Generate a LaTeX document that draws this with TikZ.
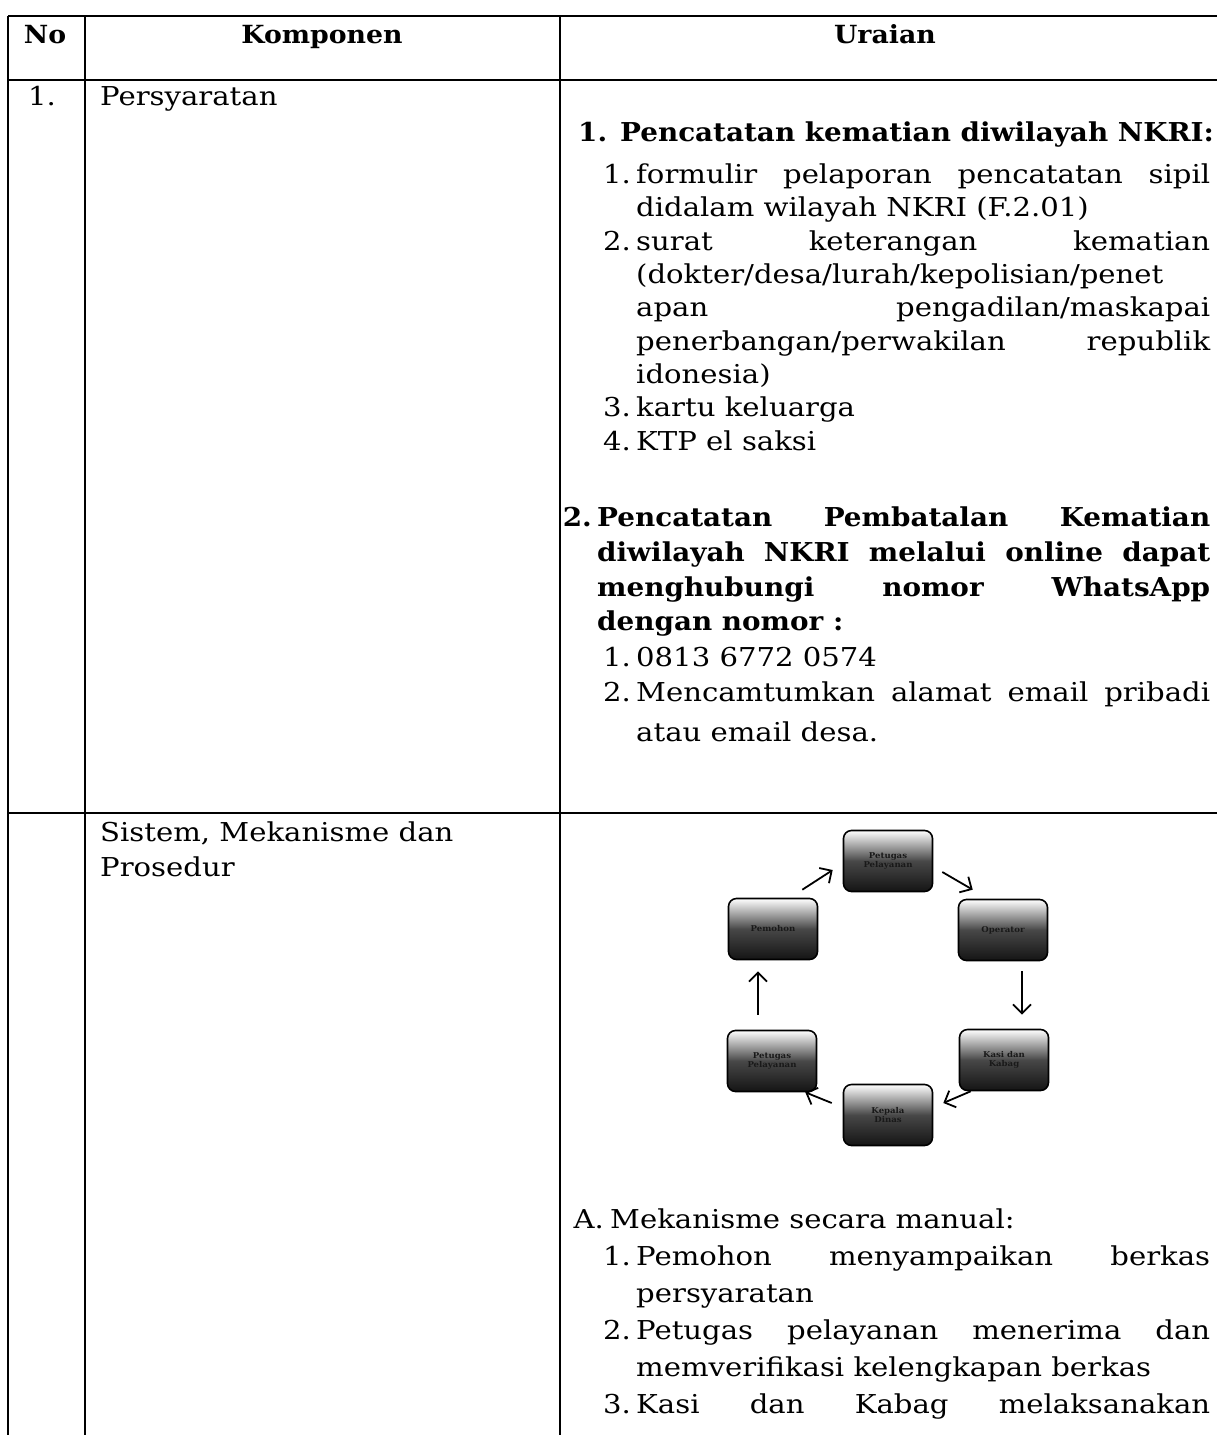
\documentclass[tikz,border=0pt]{standalone}
\usepackage{fontspec}
\setmainfont{DejaVu Serif}[FakeStretch=1.12]
\newfontfamily\bfam{DejaVu Serif Bold}[FakeStretch=1.07]
\usetikzlibrary{arrows.meta,calc}
\newcommand\jst[2]{\makebox[#1][s]{#2}}
\begin{document}
\begin{tikzpicture}[x=1pt,y=-1pt,
  txt/.style={anchor=base west, inner sep=0pt, font=\fontsize{26}{30}\selectfont},
  num/.style={anchor=base east, inner sep=0pt, font=\fontsize{26}{30}\selectfont},
  btxt/.style={anchor=base west, inner sep=0pt, font=\fontsize{26}{30}\bfam},
  bnum/.style={anchor=base east, inner sep=0pt, font=\fontsize{26}{30}\bfam},
  hdr/.style={anchor=base, inner sep=0pt, font=\fontsize{25}{30}\bfam},
  grid/.style={line width=1.6pt},
  box/.style={draw, line width=1.6pt, rounded corners=8pt, minimum width=89pt, minimum height=61pt,
    top color=white, bottom color=black!92, middle color=black!72, align=center,
    font=\fontsize{8}{9}\bfam, text=black!90, inner sep=2pt},
  arr/.style={line width=1.8pt, -{Straight Barb[length=9pt,width=18pt]}}
]
\fill[white] (0,0) rectangle (1217,1435);
\useasboundingbox (0,0) rectangle (1217,1435);
% table grid
\draw[grid] (8,16) -- (1217,16);
\draw[grid] (8,80) -- (1217,80);
\draw[grid] (8,813) -- (1217,813);
\draw[grid] (8,16) -- (8,1435);
\draw[grid] (85,16) -- (85,1435);
\draw[grid] (560,16) -- (560,1435);
% header
\node[hdr] (hno) at (45,43) {No};
\node[hdr] (hkomp) at (322,43) {Komponen};
\node[hdr] (hur) at (885,43) {Uraian};
% left column
\node[txt] (n1) at (28,105) {1.};
\node[txt] (k1) at (100,105) {Persyaratan};
\node[txt] (k2a) at (100,841) {Sistem, Mekanisme dan};
\node[txt] (k2b) at (100,876) {Prosedur};
% section 1
\node[btxt] (s1t) at (578,141) {1. Pencatatan kematian diwilayah NKRI:};
\node[num] (s1n1) at (631,183) {1.};
\node[txt] (s1l1) at (636,183) {\jst{574pt}{formulir pelaporan pencatatan sipil}};
\node[txt] (s1l2) at (636,216) {didalam wilayah NKRI (F.2.01)};
\node[num] (s1n2) at (631,250) {2.};
\node[txt] (s1l3) at (636,250) {\jst{574pt}{surat keterangan kematian}};
\node[txt] (s1l4) at (636,283) {(dokter/desa/lurah/kepolisian/penet};
\node[txt] (s1l5) at (636,316) {\jst{574pt}{apan pengadilan/maskapai}};
\node[txt] (s1l6) at (636,350) {\jst{574pt}{penerbangan/perwakilan republik}};
\node[txt] (s1l7) at (636,383) {idonesia)};
\node[num] (s1n3) at (631,416) {3.};
\node[txt] (s1l8) at (636,416) {kartu keluarga};
\node[num] (s1n4) at (631,450) {4.};
\node[txt] (s1l9) at (636,450) {KTP el saksi};
% section 2
\node[bnum] (s2n) at (592,526) {2.};
\node[btxt] (s2t1) at (597,526) {\jst{613pt}{Pencatatan Pembatalan Kematian}};
\node[btxt] (s2t2) at (597,561) {\jst{613pt}{diwilayah NKRI melalui online dapat}};
\node[btxt] (s2t3) at (597,596) {\jst{613pt}{menghubungi nomor WhatsApp}};
\node[btxt] (s2t4) at (597,630) {dengan nomor :};
\node[num] (s2n1) at (631,666) {1.};
\node[txt] (s2l1) at (636,666) {0813 6772 0574};
\node[num] (s2n2) at (631,701) {2.};
\node[txt] (s2l2) at (636,701) {\jst{574pt}{Mencamtumkan alamat email pribadi}};
\node[txt] (s2l3) at (636,741) {atau email desa.};
% cycle diagram
\node[box] (top) at (888,861) {Petugas\\Pelayanan};
\node[box] (ru) at (1003,930) {Operator};
\node[box] (rl) at (1004,1060) {Kasi dan\\Kabag};
\node[box] (bot) at (888,1115) {Kepala\\Dinas};
\node[box] (ll) at (772,1061) {Petugas\\Pelayanan};
\node[box] (lu) at (773,929) {Pemohon};
\draw[arr] ($(lu.north east)+(-16,-8)$) -- ($(top.west)+(-10,9)$);
\draw[arr] ($(top.east)+(9,11)$) -- ($(ru.north west)+(15,-9)$);
\draw[arr] ($(ru.south)+(19,10)$) -- ($(rl.north)+(18,-14)$);
\draw[arr] ($(rl.south west)+(12,0)$) -- ($(bot.east)+(10,-12)$);
\draw[arr] ($(bot.west)+(-11,-12)$) -- ($(ll.south east)+(-12,0)$);
\draw[arr] ($(ll.north)+(-14,-15)$) -- ($(lu.south)+(-15,11)$);
% section A
\node[num] (an) at (604,1228) {A.};
\node[txt] (at) at (610,1228) {Mekanisme secara manual:};
\node[num] (an1) at (631,1265) {1.};
\node[txt] (al1) at (636,1265) {\jst{574pt}{Pemohon menyampaikan berkas}};
\node[txt] (al2) at (636,1302) {persyaratan};
\node[num] (an2) at (631,1339) {2.};
\node[txt] (al3) at (636,1339) {\jst{574pt}{Petugas pelayanan menerima dan}};
\node[txt] (al4) at (636,1376) {memverifikasi kelengkapan berkas};
\node[num] (an3) at (631,1413) {3.};
\node[txt] (al5) at (636,1413) {\jst{574pt}{Kasi dan Kabag melaksanakan}};
\end{tikzpicture}
\end{document}
